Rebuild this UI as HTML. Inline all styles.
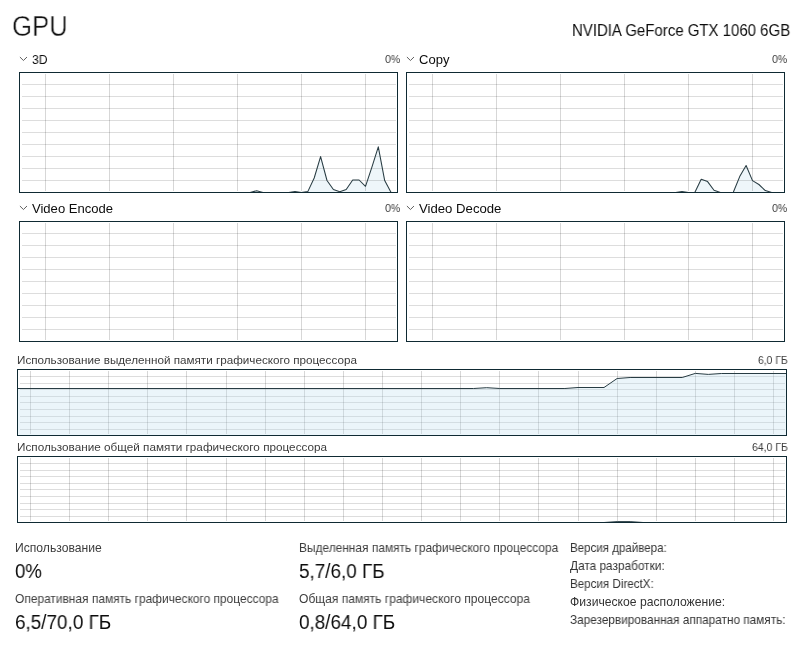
<!DOCTYPE html>
<html lang="ru"><head><meta charset="utf-8"><title>GPU</title>
<style>
html,body{margin:0;padding:0;background:#fff;}
body{width:799px;height:660px;position:relative;overflow:hidden;font-family:"Liberation Sans",sans-serif;}
svg{position:absolute;left:0;top:0;}
.t{position:absolute;white-space:nowrap;line-height:1;transform-origin:0 50%;display:inline-block;will-change:transform;}
</style></head><body>
<svg width="799" height="660" viewBox="0 0 799 660">
<path d="M19.5,192.5 L250.1,192.5 L256.6,190.7 L263.0,192.5 L288.6,192.5 L295.0,191.5 L301.4,192.5 L307.8,191.6 L314.2,178.0 L320.6,156.6 L327.0,180.5 L333.4,189.5 L339.8,191.8 L346.2,189.5 L352.7,180.0 L359.1,180.0 L365.5,186.3 L371.9,167.2 L378.3,146.8 L384.7,180.6 L391.1,192.5 L397.5,192.5 L397.5,192.5 L19.5,192.5 Z" fill="#eef6fa" stroke="none"/>
<g shape-rendering="crispEdges">
<line x1="22.0" y1="84.5" x2="396.0" y2="84.5" stroke="rgba(0,0,0,0.135)" stroke-width="1"/>
<line x1="22.0" y1="96.5" x2="396.0" y2="96.5" stroke="rgba(0,0,0,0.135)" stroke-width="1"/>
<line x1="22.0" y1="108.5" x2="396.0" y2="108.5" stroke="rgba(0,0,0,0.135)" stroke-width="1"/>
<line x1="22.0" y1="120.5" x2="396.0" y2="120.5" stroke="rgba(0,0,0,0.135)" stroke-width="1"/>
<line x1="22.0" y1="132.5" x2="396.0" y2="132.5" stroke="rgba(0,0,0,0.135)" stroke-width="1"/>
<line x1="22.0" y1="144.5" x2="396.0" y2="144.5" stroke="rgba(0,0,0,0.135)" stroke-width="1"/>
<line x1="22.0" y1="156.5" x2="396.0" y2="156.5" stroke="rgba(0,0,0,0.135)" stroke-width="1"/>
<line x1="22.0" y1="168.5" x2="396.0" y2="168.5" stroke="rgba(0,0,0,0.135)" stroke-width="1"/>
<line x1="22.0" y1="180.5" x2="396.0" y2="180.5" stroke="rgba(0,0,0,0.135)" stroke-width="1"/>
<line x1="45.5" y1="74.0" x2="45.5" y2="191.0" stroke="rgba(0,0,0,0.155)" stroke-width="1"/>
<line x1="109.5" y1="74.0" x2="109.5" y2="191.0" stroke="rgba(0,0,0,0.155)" stroke-width="1"/>
<line x1="173.5" y1="74.0" x2="173.5" y2="191.0" stroke="rgba(0,0,0,0.155)" stroke-width="1"/>
<line x1="237.5" y1="74.0" x2="237.5" y2="191.0" stroke="rgba(0,0,0,0.155)" stroke-width="1"/>
<line x1="301.5" y1="74.0" x2="301.5" y2="191.0" stroke="rgba(0,0,0,0.155)" stroke-width="1"/>
<line x1="365.5" y1="74.0" x2="365.5" y2="191.0" stroke="rgba(0,0,0,0.155)" stroke-width="1"/>
</g>
<path d="M19.5,192.5 L250.1,192.5 L256.6,190.7 L263.0,192.5 L288.6,192.5 L295.0,191.5 L301.4,192.5 L307.8,191.6 L314.2,178.0 L320.6,156.6 L327.0,180.5 L333.4,189.5 L339.8,191.8 L346.2,189.5 L352.7,180.0 L359.1,180.0 L365.5,186.3 L371.9,167.2 L378.3,146.8 L384.7,180.6 L391.1,192.5 L397.5,192.5" fill="none" stroke="#283c43" stroke-width="1.05" stroke-linejoin="round"/>
<rect x="19.5" y="72.5" width="378" height="120" fill="none" stroke="#0f2a33" stroke-width="1" shape-rendering="crispEdges"/>
<path d="M406.5,192.5 L675.6,192.5 L682.0,191.5 L688.4,192.5 L694.8,192.5 L701.2,179.3 L707.6,181.6 L714.0,190.3 L720.4,192.5 L733.2,192.5 L739.7,176.6 L746.1,165.5 L752.5,180.6 L758.9,184.5 L765.3,190.6 L771.7,192.5 L784.5,192.5 L784.5,192.5 L406.5,192.5 Z" fill="#eef6fa" stroke="none"/>
<g shape-rendering="crispEdges">
<line x1="409.0" y1="84.5" x2="783.0" y2="84.5" stroke="rgba(0,0,0,0.135)" stroke-width="1"/>
<line x1="409.0" y1="96.5" x2="783.0" y2="96.5" stroke="rgba(0,0,0,0.135)" stroke-width="1"/>
<line x1="409.0" y1="108.5" x2="783.0" y2="108.5" stroke="rgba(0,0,0,0.135)" stroke-width="1"/>
<line x1="409.0" y1="120.5" x2="783.0" y2="120.5" stroke="rgba(0,0,0,0.135)" stroke-width="1"/>
<line x1="409.0" y1="132.5" x2="783.0" y2="132.5" stroke="rgba(0,0,0,0.135)" stroke-width="1"/>
<line x1="409.0" y1="144.5" x2="783.0" y2="144.5" stroke="rgba(0,0,0,0.135)" stroke-width="1"/>
<line x1="409.0" y1="156.5" x2="783.0" y2="156.5" stroke="rgba(0,0,0,0.135)" stroke-width="1"/>
<line x1="409.0" y1="168.5" x2="783.0" y2="168.5" stroke="rgba(0,0,0,0.135)" stroke-width="1"/>
<line x1="409.0" y1="180.5" x2="783.0" y2="180.5" stroke="rgba(0,0,0,0.135)" stroke-width="1"/>
<line x1="432.5" y1="74.0" x2="432.5" y2="191.0" stroke="rgba(0,0,0,0.155)" stroke-width="1"/>
<line x1="496.5" y1="74.0" x2="496.5" y2="191.0" stroke="rgba(0,0,0,0.155)" stroke-width="1"/>
<line x1="560.5" y1="74.0" x2="560.5" y2="191.0" stroke="rgba(0,0,0,0.155)" stroke-width="1"/>
<line x1="624.5" y1="74.0" x2="624.5" y2="191.0" stroke="rgba(0,0,0,0.155)" stroke-width="1"/>
<line x1="688.5" y1="74.0" x2="688.5" y2="191.0" stroke="rgba(0,0,0,0.155)" stroke-width="1"/>
<line x1="752.5" y1="74.0" x2="752.5" y2="191.0" stroke="rgba(0,0,0,0.155)" stroke-width="1"/>
</g>
<path d="M406.5,192.5 L675.6,192.5 L682.0,191.5 L688.4,192.5 L694.8,192.5 L701.2,179.3 L707.6,181.6 L714.0,190.3 L720.4,192.5 L733.2,192.5 L739.7,176.6 L746.1,165.5 L752.5,180.6 L758.9,184.5 L765.3,190.6 L771.7,192.5 L784.5,192.5" fill="none" stroke="#283c43" stroke-width="1.05" stroke-linejoin="round"/>
<rect x="406.5" y="72.5" width="378" height="120" fill="none" stroke="#0f2a33" stroke-width="1" shape-rendering="crispEdges"/>
<g shape-rendering="crispEdges">
<line x1="22.0" y1="233.5" x2="396.0" y2="233.5" stroke="rgba(0,0,0,0.135)" stroke-width="1"/>
<line x1="22.0" y1="245.5" x2="396.0" y2="245.5" stroke="rgba(0,0,0,0.135)" stroke-width="1"/>
<line x1="22.0" y1="257.5" x2="396.0" y2="257.5" stroke="rgba(0,0,0,0.135)" stroke-width="1"/>
<line x1="22.0" y1="269.5" x2="396.0" y2="269.5" stroke="rgba(0,0,0,0.135)" stroke-width="1"/>
<line x1="22.0" y1="281.5" x2="396.0" y2="281.5" stroke="rgba(0,0,0,0.135)" stroke-width="1"/>
<line x1="22.0" y1="293.5" x2="396.0" y2="293.5" stroke="rgba(0,0,0,0.135)" stroke-width="1"/>
<line x1="22.0" y1="305.5" x2="396.0" y2="305.5" stroke="rgba(0,0,0,0.135)" stroke-width="1"/>
<line x1="22.0" y1="317.5" x2="396.0" y2="317.5" stroke="rgba(0,0,0,0.135)" stroke-width="1"/>
<line x1="22.0" y1="329.5" x2="396.0" y2="329.5" stroke="rgba(0,0,0,0.135)" stroke-width="1"/>
<line x1="45.5" y1="223.0" x2="45.5" y2="340.0" stroke="rgba(0,0,0,0.155)" stroke-width="1"/>
<line x1="109.5" y1="223.0" x2="109.5" y2="340.0" stroke="rgba(0,0,0,0.155)" stroke-width="1"/>
<line x1="173.5" y1="223.0" x2="173.5" y2="340.0" stroke="rgba(0,0,0,0.155)" stroke-width="1"/>
<line x1="237.5" y1="223.0" x2="237.5" y2="340.0" stroke="rgba(0,0,0,0.155)" stroke-width="1"/>
<line x1="301.5" y1="223.0" x2="301.5" y2="340.0" stroke="rgba(0,0,0,0.155)" stroke-width="1"/>
<line x1="365.5" y1="223.0" x2="365.5" y2="340.0" stroke="rgba(0,0,0,0.155)" stroke-width="1"/>
</g>
<rect x="19.5" y="221.5" width="378" height="120" fill="none" stroke="#0f2a33" stroke-width="1" shape-rendering="crispEdges"/>
<g shape-rendering="crispEdges">
<line x1="409.0" y1="233.5" x2="783.0" y2="233.5" stroke="rgba(0,0,0,0.135)" stroke-width="1"/>
<line x1="409.0" y1="245.5" x2="783.0" y2="245.5" stroke="rgba(0,0,0,0.135)" stroke-width="1"/>
<line x1="409.0" y1="257.5" x2="783.0" y2="257.5" stroke="rgba(0,0,0,0.135)" stroke-width="1"/>
<line x1="409.0" y1="269.5" x2="783.0" y2="269.5" stroke="rgba(0,0,0,0.135)" stroke-width="1"/>
<line x1="409.0" y1="281.5" x2="783.0" y2="281.5" stroke="rgba(0,0,0,0.135)" stroke-width="1"/>
<line x1="409.0" y1="293.5" x2="783.0" y2="293.5" stroke="rgba(0,0,0,0.135)" stroke-width="1"/>
<line x1="409.0" y1="305.5" x2="783.0" y2="305.5" stroke="rgba(0,0,0,0.135)" stroke-width="1"/>
<line x1="409.0" y1="317.5" x2="783.0" y2="317.5" stroke="rgba(0,0,0,0.135)" stroke-width="1"/>
<line x1="409.0" y1="329.5" x2="783.0" y2="329.5" stroke="rgba(0,0,0,0.135)" stroke-width="1"/>
<line x1="432.5" y1="223.0" x2="432.5" y2="340.0" stroke="rgba(0,0,0,0.155)" stroke-width="1"/>
<line x1="496.5" y1="223.0" x2="496.5" y2="340.0" stroke="rgba(0,0,0,0.155)" stroke-width="1"/>
<line x1="560.5" y1="223.0" x2="560.5" y2="340.0" stroke="rgba(0,0,0,0.155)" stroke-width="1"/>
<line x1="624.5" y1="223.0" x2="624.5" y2="340.0" stroke="rgba(0,0,0,0.155)" stroke-width="1"/>
<line x1="688.5" y1="223.0" x2="688.5" y2="340.0" stroke="rgba(0,0,0,0.155)" stroke-width="1"/>
<line x1="752.5" y1="223.0" x2="752.5" y2="340.0" stroke="rgba(0,0,0,0.155)" stroke-width="1"/>
</g>
<rect x="406.5" y="221.5" width="378" height="120" fill="none" stroke="#0f2a33" stroke-width="1" shape-rendering="crispEdges"/>
<g shape-rendering="crispEdges">
<line x1="20.0" y1="376.5" x2="785.0" y2="376.5" stroke="rgba(0,0,0,0.135)" stroke-width="1"/>
<line x1="20.0" y1="383.5" x2="785.0" y2="383.5" stroke="rgba(0,0,0,0.135)" stroke-width="1"/>
<line x1="20.0" y1="389.5" x2="785.0" y2="389.5" stroke="rgba(0,0,0,0.135)" stroke-width="1"/>
<line x1="20.0" y1="396.5" x2="785.0" y2="396.5" stroke="rgba(0,0,0,0.135)" stroke-width="1"/>
<line x1="20.0" y1="402.5" x2="785.0" y2="402.5" stroke="rgba(0,0,0,0.135)" stroke-width="1"/>
<line x1="20.0" y1="409.5" x2="785.0" y2="409.5" stroke="rgba(0,0,0,0.135)" stroke-width="1"/>
<line x1="20.0" y1="416.5" x2="785.0" y2="416.5" stroke="rgba(0,0,0,0.135)" stroke-width="1"/>
<line x1="20.0" y1="422.5" x2="785.0" y2="422.5" stroke="rgba(0,0,0,0.135)" stroke-width="1"/>
<line x1="20.0" y1="429.5" x2="785.0" y2="429.5" stroke="rgba(0,0,0,0.135)" stroke-width="1"/>
<line x1="773.5" y1="371.0" x2="773.5" y2="434.0" stroke="rgba(0,0,0,0.155)" stroke-width="1"/>
<line x1="734.5" y1="371.0" x2="734.5" y2="434.0" stroke="rgba(0,0,0,0.155)" stroke-width="1"/>
<line x1="695.5" y1="371.0" x2="695.5" y2="434.0" stroke="rgba(0,0,0,0.155)" stroke-width="1"/>
<line x1="656.5" y1="371.0" x2="656.5" y2="434.0" stroke="rgba(0,0,0,0.155)" stroke-width="1"/>
<line x1="617.5" y1="371.0" x2="617.5" y2="434.0" stroke="rgba(0,0,0,0.155)" stroke-width="1"/>
<line x1="578.5" y1="371.0" x2="578.5" y2="434.0" stroke="rgba(0,0,0,0.155)" stroke-width="1"/>
<line x1="538.5" y1="371.0" x2="538.5" y2="434.0" stroke="rgba(0,0,0,0.155)" stroke-width="1"/>
<line x1="499.5" y1="371.0" x2="499.5" y2="434.0" stroke="rgba(0,0,0,0.155)" stroke-width="1"/>
<line x1="460.5" y1="371.0" x2="460.5" y2="434.0" stroke="rgba(0,0,0,0.155)" stroke-width="1"/>
<line x1="421.5" y1="371.0" x2="421.5" y2="434.0" stroke="rgba(0,0,0,0.155)" stroke-width="1"/>
<line x1="382.5" y1="371.0" x2="382.5" y2="434.0" stroke="rgba(0,0,0,0.155)" stroke-width="1"/>
<line x1="343.5" y1="371.0" x2="343.5" y2="434.0" stroke="rgba(0,0,0,0.155)" stroke-width="1"/>
<line x1="304.5" y1="371.0" x2="304.5" y2="434.0" stroke="rgba(0,0,0,0.155)" stroke-width="1"/>
<line x1="265.5" y1="371.0" x2="265.5" y2="434.0" stroke="rgba(0,0,0,0.155)" stroke-width="1"/>
<line x1="226.5" y1="371.0" x2="226.5" y2="434.0" stroke="rgba(0,0,0,0.155)" stroke-width="1"/>
<line x1="186.5" y1="371.0" x2="186.5" y2="434.0" stroke="rgba(0,0,0,0.155)" stroke-width="1"/>
<line x1="147.5" y1="371.0" x2="147.5" y2="434.0" stroke="rgba(0,0,0,0.155)" stroke-width="1"/>
<line x1="108.5" y1="371.0" x2="108.5" y2="434.0" stroke="rgba(0,0,0,0.155)" stroke-width="1"/>
<line x1="69.5" y1="371.0" x2="69.5" y2="434.0" stroke="rgba(0,0,0,0.155)" stroke-width="1"/>
<line x1="30.5" y1="371.0" x2="30.5" y2="434.0" stroke="rgba(0,0,0,0.155)" stroke-width="1"/>
</g>
<path d="M17.5,388.5 L473.7,388.5 L486.7,387.7 L499.8,388.5 L564.9,388.5 L578.0,387.5 L604.0,387.5 L617.1,378.5 L630.1,377.5 L682.2,377.5 L695.3,373.4 L708.3,374.4 L721.3,373.5 L786.5,373.5 L786.5,435.5 L17.5,435.5 Z" fill="rgb(190,222,240)" fill-opacity="0.3" stroke="none"/>
<path d="M17.5,388.5 L473.7,388.5 L486.7,387.7 L499.8,388.5 L564.9,388.5 L578.0,387.5 L604.0,387.5 L617.1,378.5 L630.1,377.5 L682.2,377.5 L695.3,373.4 L708.3,374.4 L721.3,373.5 L786.5,373.5" fill="none" stroke="#283c43" stroke-width="1" stroke-linejoin="round"/>
<rect x="17.5" y="369.5" width="769" height="66" fill="none" stroke="#0f2a33" stroke-width="1" shape-rendering="crispEdges"/>
<g shape-rendering="crispEdges">
<line x1="20.0" y1="463.5" x2="785.0" y2="463.5" stroke="rgba(0,0,0,0.135)" stroke-width="1"/>
<line x1="20.0" y1="470.5" x2="785.0" y2="470.5" stroke="rgba(0,0,0,0.135)" stroke-width="1"/>
<line x1="20.0" y1="476.5" x2="785.0" y2="476.5" stroke="rgba(0,0,0,0.135)" stroke-width="1"/>
<line x1="20.0" y1="483.5" x2="785.0" y2="483.5" stroke="rgba(0,0,0,0.135)" stroke-width="1"/>
<line x1="20.0" y1="489.5" x2="785.0" y2="489.5" stroke="rgba(0,0,0,0.135)" stroke-width="1"/>
<line x1="20.0" y1="496.5" x2="785.0" y2="496.5" stroke="rgba(0,0,0,0.135)" stroke-width="1"/>
<line x1="20.0" y1="503.5" x2="785.0" y2="503.5" stroke="rgba(0,0,0,0.135)" stroke-width="1"/>
<line x1="20.0" y1="509.5" x2="785.0" y2="509.5" stroke="rgba(0,0,0,0.135)" stroke-width="1"/>
<line x1="20.0" y1="516.5" x2="785.0" y2="516.5" stroke="rgba(0,0,0,0.135)" stroke-width="1"/>
<line x1="773.5" y1="458.0" x2="773.5" y2="521.0" stroke="rgba(0,0,0,0.155)" stroke-width="1"/>
<line x1="734.5" y1="458.0" x2="734.5" y2="521.0" stroke="rgba(0,0,0,0.155)" stroke-width="1"/>
<line x1="695.5" y1="458.0" x2="695.5" y2="521.0" stroke="rgba(0,0,0,0.155)" stroke-width="1"/>
<line x1="656.5" y1="458.0" x2="656.5" y2="521.0" stroke="rgba(0,0,0,0.155)" stroke-width="1"/>
<line x1="617.5" y1="458.0" x2="617.5" y2="521.0" stroke="rgba(0,0,0,0.155)" stroke-width="1"/>
<line x1="578.5" y1="458.0" x2="578.5" y2="521.0" stroke="rgba(0,0,0,0.155)" stroke-width="1"/>
<line x1="538.5" y1="458.0" x2="538.5" y2="521.0" stroke="rgba(0,0,0,0.155)" stroke-width="1"/>
<line x1="499.5" y1="458.0" x2="499.5" y2="521.0" stroke="rgba(0,0,0,0.155)" stroke-width="1"/>
<line x1="460.5" y1="458.0" x2="460.5" y2="521.0" stroke="rgba(0,0,0,0.155)" stroke-width="1"/>
<line x1="421.5" y1="458.0" x2="421.5" y2="521.0" stroke="rgba(0,0,0,0.155)" stroke-width="1"/>
<line x1="382.5" y1="458.0" x2="382.5" y2="521.0" stroke="rgba(0,0,0,0.155)" stroke-width="1"/>
<line x1="343.5" y1="458.0" x2="343.5" y2="521.0" stroke="rgba(0,0,0,0.155)" stroke-width="1"/>
<line x1="304.5" y1="458.0" x2="304.5" y2="521.0" stroke="rgba(0,0,0,0.155)" stroke-width="1"/>
<line x1="265.5" y1="458.0" x2="265.5" y2="521.0" stroke="rgba(0,0,0,0.155)" stroke-width="1"/>
<line x1="226.5" y1="458.0" x2="226.5" y2="521.0" stroke="rgba(0,0,0,0.155)" stroke-width="1"/>
<line x1="186.5" y1="458.0" x2="186.5" y2="521.0" stroke="rgba(0,0,0,0.155)" stroke-width="1"/>
<line x1="147.5" y1="458.0" x2="147.5" y2="521.0" stroke="rgba(0,0,0,0.155)" stroke-width="1"/>
<line x1="108.5" y1="458.0" x2="108.5" y2="521.0" stroke="rgba(0,0,0,0.155)" stroke-width="1"/>
<line x1="69.5" y1="458.0" x2="69.5" y2="521.0" stroke="rgba(0,0,0,0.155)" stroke-width="1"/>
<line x1="30.5" y1="458.0" x2="30.5" y2="521.0" stroke="rgba(0,0,0,0.155)" stroke-width="1"/>
</g>
<path d="M17.5,522.5 L604.0,522.5 L617.1,521.6 L630.1,521.6 L643.1,522.5 L786.5,522.5 L786.5,522.5 L17.5,522.5 Z" fill="rgb(190,222,240)" fill-opacity="0.3" stroke="none"/>
<path d="M17.5,522.5 L604.0,522.5 L617.1,521.6 L630.1,521.6 L643.1,522.5 L786.5,522.5" fill="none" stroke="#283c43" stroke-width="1" stroke-linejoin="round"/>
<rect x="17.5" y="456.5" width="769" height="66" fill="none" stroke="#0f2a33" stroke-width="1" shape-rendering="crispEdges"/>
<path d="M19.9,57.0 l3.55,3.5 l3.55,-3.5" fill="none" stroke="#555" stroke-width="0.95"/>
<path d="M406.9,57.0 l3.55,3.5 l3.55,-3.5" fill="none" stroke="#555" stroke-width="0.95"/>
<path d="M19.9,206.0 l3.55,3.5 l3.55,-3.5" fill="none" stroke="#555" stroke-width="0.95"/>
<path d="M406.9,206.0 l3.55,3.5 l3.55,-3.5" fill="none" stroke="#555" stroke-width="0.95"/>
</svg>
<span id="t_gpu" class="t" style="left:12.20px;top:11.79px;font-size:28.6px;color:#111;-webkit-text-stroke:0.45px #fff;transform:scaleX(0.9015)">GPU</span>
<span id="t_name" class="t" style="left:571.55px;top:22.79px;font-size:15.6px;color:#0c0c0c;transform:scaleX(0.9609)">NVIDIA GeForce GTX 1060 6GB</span>
<span id="t_3d" class="t" style="left:32.13px;top:53.00px;font-size:13.0px;color:#0c0c0c;transform:scaleX(0.9382)">3D</span>
<span id="t_copy" class="t" style="left:419.04px;top:53.00px;font-size:13.0px;color:#0c0c0c;transform:scaleX(1.0016)">Copy</span>
<span id="t_venc" class="t" style="left:31.98px;top:202.00px;font-size:13.0px;color:#0c0c0c;transform:scaleX(1.0037)">Video Encode</span>
<span id="t_vdec" class="t" style="left:419.39px;top:202.00px;font-size:13.0px;color:#0c0c0c;transform:scaleX(1.0119)">Video Decode</span>
<span id="t_p1" class="t" style="left:385.30px;top:54.43px;font-size:11.3px;color:#3c3c3c;transform:scaleX(0.9381)">0%</span>
<span id="t_p2" class="t" style="left:772.48px;top:54.43px;font-size:11.3px;color:#3c3c3c;transform:scaleX(0.9314)">0%</span>
<span id="t_p3" class="t" style="left:385.30px;top:203.43px;font-size:11.3px;color:#3c3c3c;transform:scaleX(0.9381)">0%</span>
<span id="t_p4" class="t" style="left:772.48px;top:203.43px;font-size:11.3px;color:#3c3c3c;transform:scaleX(0.9314)">0%</span>
<span id="t_m1" class="t" style="left:16.75px;top:354.52px;font-size:11.2px;color:#3c3c3c;transform:scaleX(1.0438)">Использование выделенной памяти графического процессора</span>
<span id="t_m1r" class="t" style="left:757.75px;top:354.52px;font-size:11.2px;color:#3c3c3c;transform:scaleX(0.9253)">6,0 ГБ</span>
<span id="t_m2" class="t" style="left:16.68px;top:441.52px;font-size:11.2px;color:#3c3c3c;transform:scaleX(1.0480)">Использование общей памяти графического процессора</span>
<span id="t_m2r" class="t" style="left:751.52px;top:441.52px;font-size:11.2px;color:#3c3c3c;transform:scaleX(0.9344)">64,0 ГБ</span>
<span id="t_u1" class="t" style="left:14.60px;top:541.76px;font-size:12.1px;color:#3c3c3c;transform:scaleX(1.0036)">Использование</span>
<span id="t_u1v" class="t" style="left:15.37px;top:562.49px;font-size:19.5px;color:#0c0c0c;transform:scaleX(0.9537)">0%</span>
<span id="t_u2" class="t" style="left:14.99px;top:592.76px;font-size:12.1px;color:#3c3c3c;transform:scaleX(0.9864)">Оперативная память графического процессора</span>
<span id="t_u2v" class="t" style="left:14.58px;top:613.49px;font-size:19.5px;color:#0c0c0c;transform:scaleX(0.9688)">6,5/70,0 ГБ</span>
<span id="t_d1" class="t" style="left:298.54px;top:541.76px;font-size:12.1px;color:#3c3c3c;transform:scaleX(0.9851)">Выделенная память графического процессора</span>
<span id="t_d1v" class="t" style="left:298.59px;top:562.49px;font-size:19.5px;color:#0c0c0c;transform:scaleX(0.9694)">5,7/6,0 ГБ</span>
<span id="t_d2" class="t" style="left:299.48px;top:592.76px;font-size:12.1px;color:#3c3c3c;transform:scaleX(0.9943)">Общая память графического процессора</span>
<span id="t_d2v" class="t" style="left:298.89px;top:613.49px;font-size:19.5px;color:#0c0c0c;transform:scaleX(0.9685)">0,8/64,0 ГБ</span>
<span id="t_r1" class="t" style="left:570.21px;top:541.76px;font-size:12.1px;color:#333;transform:scaleX(0.9544)">Версия драйвера:</span>
<span id="t_r2" class="t" style="left:570.23px;top:559.76px;font-size:12.1px;color:#333;transform:scaleX(0.9777)">Дата разработки:</span>
<span id="t_r3" class="t" style="left:570.20px;top:577.76px;font-size:12.1px;color:#333;transform:scaleX(0.9590)">Версия DirectX:</span>
<span id="t_r4" class="t" style="left:570.13px;top:595.76px;font-size:12.1px;color:#333;transform:scaleX(1.0062)">Физическое расположение:</span>
<span id="t_r5" class="t" style="left:570.17px;top:613.76px;font-size:12.1px;color:#333;transform:scaleX(0.9748)">Зарезервированная аппаратно память:</span>
</body></html>
